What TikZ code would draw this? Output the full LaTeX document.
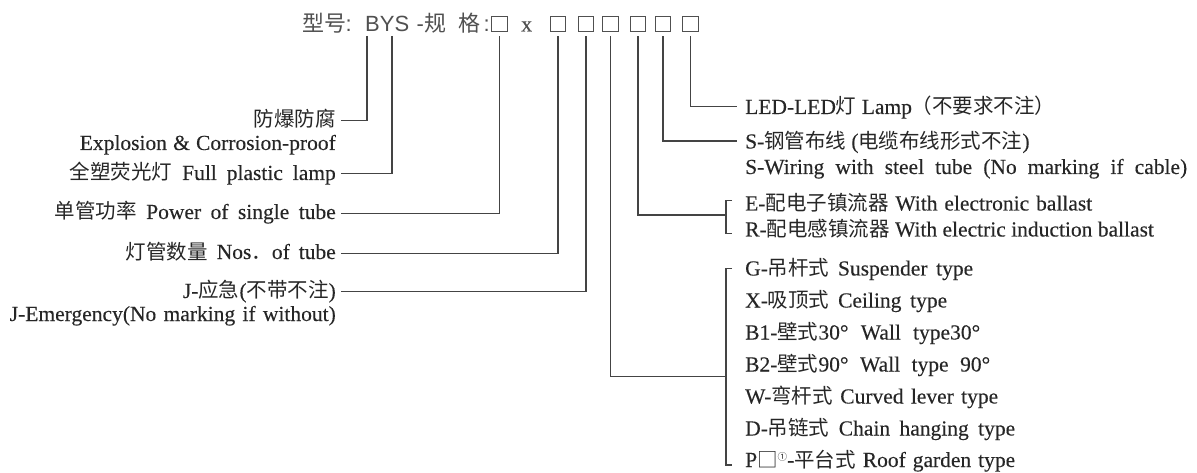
\documentclass[tikz,border=0pt]{standalone}
\usepackage{fontspec}
\setmainfont{Liberation Serif}[FakeBold=0.2]
\newfontfamily\cjkf[Scale=0.9535]{Noto Sans CJK SC}
\newfontfamily\hcjkf{Noto Sans CJK SC}
\newfontfamily\hsans{Liberation Sans}
\newcommand\cj[1]{{\cjkf #1}}
\newcommand\fitto[2]{\hbox to #1pt{#2}}
\definecolor{txt}{HTML}{262626}
\definecolor{hdr}{HTML}{505050}
\definecolor{wirec}{HTML}{444444}
\begin{document}
\begin{tikzpicture}[x=1pt,y=-1pt,
  lab/.style={inner sep=0pt, text=txt, font=\fontsize{21.5}{24}\selectfont},
  lft/.style={lab, anchor=base east},
  rgt/.style={lab, anchor=base west},
  hd/.style={inner sep=0pt, text=hdr, anchor=base west},
  hcj/.style={hd, font=\fontsize{22}{24}\selectfont\hcjkf},
  hsf/.style={hd, font=\fontsize{22}{24}\selectfont\hsans},
  slot/.style={draw=hdr, line width=1.3pt, minimum size=15.5pt, inner sep=0pt},
  wire/.style={draw=wirec, line width=1.4pt}]
\useasboundingbox (0,0) rectangle (1197,473);

% header
\node[hcj] (xh) at (302,31.5) {型号};
\node[hsf] (c1) at (345.5,31.5) {:};
\node[hsf] (bys) at (365,31.5) {BYS};
\node[hsf] (dash) at (416.5,31.5) {-};
\node[hcj] (g1) at (424,31.5) {规};
\node[hcj] (g2) at (458,31.5) {格};
\node[hsf] (c2) at (483.5,31.5) {:};
\node[slot] (s1) at (499.5,24) {};
\node[hd, font=\fontsize{22}{24}\selectfont] (xx) at (521,31.5) {x};
\node[slot] (s2) at (558,24) {};
\node[slot] (s3) at (586,24) {};
\node[slot] (s4) at (610.5,24) {};
\node[slot] (s5) at (638,24) {};
\node[slot] (s6) at (663,24) {};
\node[slot] (s7) at (690.5,24) {};

% left labels
\node[lft] (l1) at (336,126.5) {\cj{防爆防腐}};
\node[lft] (l2) at (336,150) {\fitto{256}{Explosion \& Corrosion-proof}};
\node[lft] (l3) at (336,180) {\fitto{266}{\cj{全塑荧光灯} Full plastic lamp}};
\node[lft] (l4) at (336,219) {\fitto{281}{\cj{单管功率} Power of single tube}};
\node[lft] (l5) at (336,259) {\fitto{210}{\cj{灯管数量} Nos\cj{．}of tube}};
\node[lft] (l6) at (336,298) {J-\cj{应急}(\cj{不带不注})};
\node[lft] (l7) at (336,321) {\fitto{326}{J-Emergency(No marking if without)}};

% right labels
\node[rgt] (r1) at (745,114) {LED-LED\cj{灯} Lamp\cj{（不要求不注）}};
\node[rgt] (r2) at (745,148.5) {S-\cj{钢管布线}\kern5pt(\cj{电缆布线形式不注})};
\node[rgt] (r3) at (745,174) {\fitto{442}{S-Wiring with steel tube (No marking if cable)}};
\node[rgt] (r4) at (745,210.5) {\fitto{347}{E-\cj{配电子镇流器} With electronic ballast}};
\node[rgt] (r5) at (745,236.5) {R-\cj{配电感镇流器} With electric induction ballast};
\node[rgt] (r6) at (745,275.5) {\fitto{228}{G-\cj{吊杆式} Suspender type}};
\node[rgt] (r7) at (745,307.5) {\fitto{202}{X-\cj{吸顶式} Ceiling type}};
\node[rgt] (r8) at (745,339.5) {\fitto{235}{B1-\cj{壁式}30° Wall type30°}};
\node[rgt] (r9) at (745,371.5) {\fitto{245}{B2-\cj{壁式}90° Wall type 90°}};
\node[rgt] (r10) at (745,403.5) {\fitto{253}{W-\cj{弯杆式} Curved lever type}};
\node[rgt] (r11) at (745,435.5) {\fitto{270}{D-\cj{吊链式} Chain hanging type}};
\node[rgt] (r12) at (745,467) {\fitto{270}{P\cj{□}\raisebox{7pt}{\fontsize{10}{10}\selectfont\cj{①}}-\cj{平台式} Roof garden type}};

% connector start points
\coordinate (tB) at (367,36);
\coordinate (tY) at (392,36);
\foreach \i in {1,...,7} {\coordinate (t\i) at ([yshift=-4pt]s\i.south);}

% connector ends
\coordinate (e1) at (341,120.7);
\coordinate (e2) at (341,173.3);
\coordinate (e3) at (341,213.3);
\coordinate (e4) at (341,253.3);
\coordinate (e5) at (341,291.7);
\coordinate (e6) at (726,376.7);
\coordinate (e7) at (726,215);
\coordinate (e8) at (737,141);
\coordinate (e9) at (737,106.7);

\draw[wire] (tB) |- (e1);
\draw[wire] (tY) |- (e2);
\draw[wire] (t1) |- (e3);
\draw[wire] (t2) |- (e4);
\draw[wire] (t3) |- (e5);
\draw[wire] (t4) |- (e6);
\draw[wire] (t5) |- (e7);
\draw[wire] (t6) |- (e8);
\draw[wire] (t7) |- (e9);

% brackets
\coordinate (k1a) at (732,200.7);
\coordinate (k1b) at (732,233.3);
\coordinate (k2a) at (732,268.3);
\coordinate (k2b) at (732,465);
\draw[wire] (k1a) -- ++(-6,0) |- (k1b);
\draw[wire] (k2a) -- ++(-6,0) |- (k2b);
\end{tikzpicture}
\end{document}
